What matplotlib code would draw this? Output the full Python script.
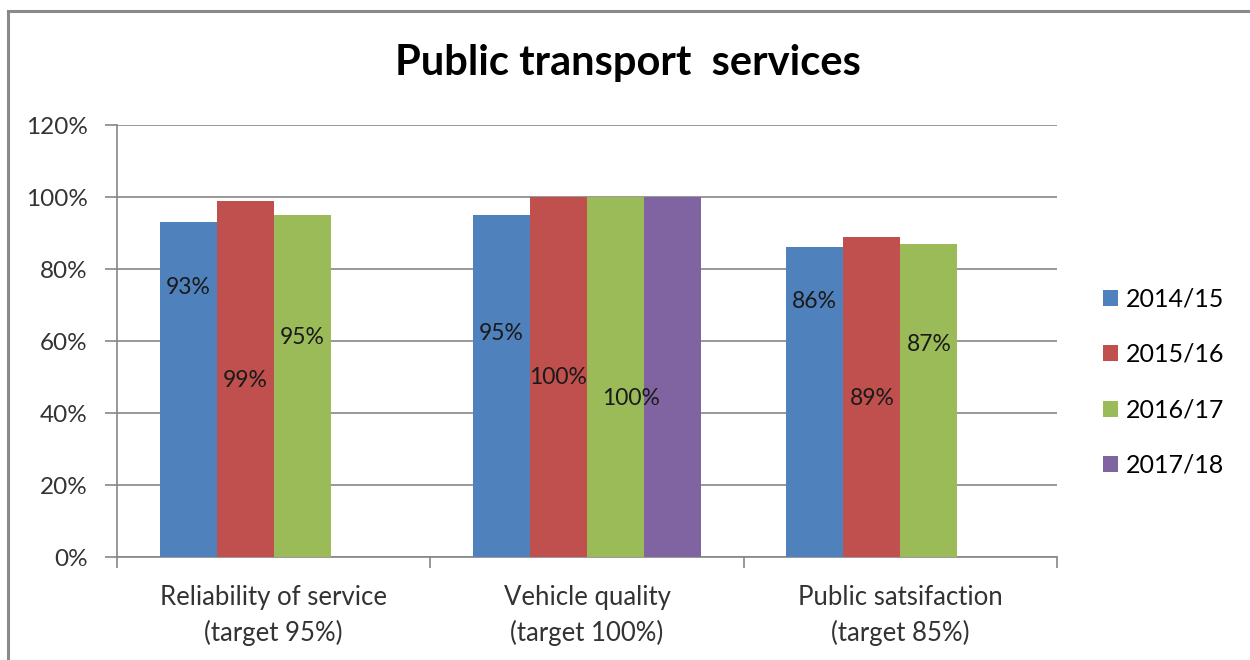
import numpy as np
import matplotlib
matplotlib.use("Agg")
import matplotlib.pyplot as plt
from matplotlib.lines import Line2D
from matplotlib.ticker import FuncFormatter

plt.rcParams['font.family'] = ['Lato', 'DejaVu Sans']

# данные
categories = ["Reliability of service\n(target 95%)",
              "Vehicle quality\n(target 100%)",
              "Public satsifaction\n(target 85%)"]
years = ["2014/15", "2015/16", "2016/17", "2017/18"]
v_2014 = [0.93, 0.95, 0.86]
v_2015 = [0.99, 1.00, 0.89]
v_2016 = [0.95, 1.00, 0.87]
v_2017 = [np.nan, 1.00, np.nan]
values = [v_2014, v_2015, v_2016, v_2017]

colors = ["#4F81BD", "#C0504D", "#9BBB59", "#8064A2"]

# подписи в Excel стоят вручную - их высота (в долях оси) и сдвиг по x
label_y = [[0.75, 0.62, 0.71],
           [0.49, 0.50, 0.44],
           [0.61, 0.44, 0.59],
           [None, None, None]]
label_dx = [[0, 0, 0],
            [0, 0, 0],
            [0, 0.05, 0],
            [0, 0, 0]]

fig = plt.figure(figsize=(12.5, 6.6), dpi=100)
ax = fig.add_axes([0.0936, 0.156, 0.752, 0.6546])

x = np.arange(len(categories))
w = 0.182
for i, (name, vals) in enumerate(zip(years, values)):
    pos = x + (i - 1.5) * w
    ax.bar(pos, vals, width=w, color=colors[i], label=name, zorder=3)
    for j, v in enumerate(vals):
        if np.isnan(v) or label_y[i][j] is None:
            continue
        ax.text(pos[j] + label_dx[i][j], label_y[i][j], f"{v:.0%}",
                ha='center', va='center', fontsize=16.5, color='#1a1a1a', zorder=4)

ax.set_xlim(-0.5, 2.5)
ax.set_ylim(0, 1.2)
ax.set_yticks(np.arange(0, 1.21, 0.2))
ax.yaxis.set_major_formatter(FuncFormatter(lambda v, _: f"{v:.0%}"))
ax.set_xticks(x)
ax.set_xticklabels(categories, fontsize=18.5, color='#333333', linespacing=1.5)
ax.set_xticks([-0.5, 0.5, 1.5, 2.5], minor=True)
ax.tick_params(axis='x', which='major', length=0, pad=20)
ax.tick_params(axis='x', which='minor', length=8, color='#868686', width=1.2)
ax.tick_params(axis='y', length=9, color='#868686', width=1.2, labelsize=17.5,
               labelcolor='#333333', pad=12)

ax.grid(axis='y', color='#868686', linewidth=1.2, zorder=0)
for s in ['top', 'right']:
    ax.spines[s].set_visible(False)
for s in ['left', 'bottom']:
    ax.spines[s].set_color('#868686')
    ax.spines[s].set_linewidth(1.2)

fig.text(0.5025, 0.904, "Public transport  services", ha='center', va='center',
         fontsize=30, fontweight='bold', color='black')

leg = ax.legend(loc='center left', bbox_to_anchor=(0.882, 0.421),
                bbox_transform=fig.transFigure, frameon=False, fontsize=18,
                handlelength=0.6, handleheight=0.6, handletextpad=0.35,
                labelspacing=1.3, borderpad=0, borderaxespad=0)

# рамка диаграммы (видны только левая и верхняя стороны)
fig.add_artist(Line2D([0.0064, 0.0064], [0, 0.983], color='#8a8a8a', lw=2.2,
                      transform=fig.transFigure))
fig.add_artist(Line2D([0.0064, 1.0], [0.983, 0.983], color='#8a8a8a', lw=2.2,
                      transform=fig.transFigure))

fig.savefig("out.png", dpi=100)
